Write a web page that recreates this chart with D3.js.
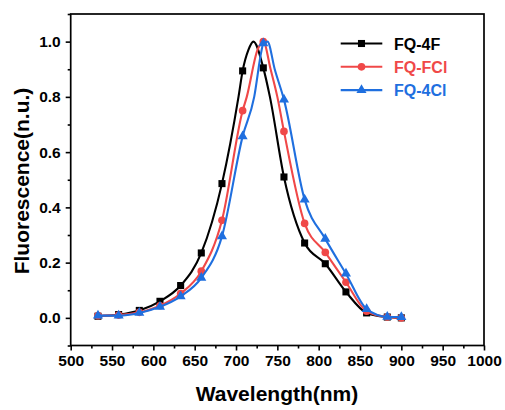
<!DOCTYPE html>
<html>
<head>
<meta charset="utf-8">
<script src="https://cdn.jsdelivr.net/npm/d3@7"></script>
<style>
  body { margin: 0; background: #fff; }
  text { font-family: "Liberation Sans", Arial, sans-serif; font-weight: bold; }
</style>
</head>
<body>
<svg></svg>
<script>
// Marker wavelengths (nm)
const wavelengths = [533, 558, 583, 608, 633, 658, 683, 708, 733, 758, 783, 808, 833, 858, 883, 900];

// Normalised fluorescence at the markers
const fq4F  = [0.006, 0.012, 0.027, 0.060, 0.117, 0.235, 0.486, 0.894, 0.905, 0.510, 0.271, 0.196, 0.094, 0.018, 0.003, 0.000];
const fqFCl = [0.008, 0.010, 0.020, 0.044, 0.088, 0.169, 0.353, 0.750, 1.000, 0.675, 0.342, 0.237, 0.129, 0.024, 0.003, 0.000];
const fq4Cl = [0.008, 0.008, 0.018, 0.040, 0.078, 0.145, 0.295, 0.657, 0.994, 0.790, 0.428, 0.286, 0.160, 0.032, 0.004, 0.003];

// Extra spectrum points around the peaks (line only, no marker)
const fq4FPeak  = [[703, 0.80], [715, 0.97], [721, 1.00], [741, 0.80]];
const fqFClPeak = [[713, 0.80], [726, 0.97], [742, 0.898], [750, 0.80]];
const fq4ClPeak = [[722, 0.80], [731, 0.97], [738, 1.00], [747, 0.898]];

// Axis ticks
const xTicks = d3.range(500, 1001, 50);
const xMinor = d3.range(525, 1000, 50);
const yTicks = [0.0, 0.2, 0.4, 0.6, 0.8, 1.0];
const yMinor = [-0.1, 0.1, 0.3, 0.5, 0.7, 0.9, 1.1];

const series = [
  { name: "FQ-4F",  values: fq4F,  peak: fq4FPeak,  color: "#000000", marker: "square" },
  { name: "FQ-FCl", values: fqFCl, peak: fqFClPeak, color: "#f04848", marker: "circle" },
  { name: "FQ-4Cl", values: fq4Cl, peak: fq4ClPeak, color: "#1f6fdf", marker: "triangle" }
];

const width = 505, height = 410;
const plotLeft = 70.7, plotRight = 484, plotTop = 14, plotBottom = 345.5;

const svg = d3.select("svg")
    .attr("width", width)
    .attr("height", height);

const x = d3.scaleLinear().domain([500, 1000]).range([plotLeft, plotRight]);
const y = d3.scaleLinear().domain([-0.1, 1.1]).range([plotBottom, plotTop]);

// Frame
svg.append("rect")
    .attr("x", plotLeft)
    .attr("y", plotTop)
    .attr("width", plotRight - plotLeft)
    .attr("height", plotBottom - plotTop)
    .attr("fill", "none")
    .attr("stroke", "#000")
    .attr("stroke-width", 1.7);

// Bottom axis
svg.append("g")
    .attr("transform", `translate(0,${plotBottom})`)
    .call(d3.axisBottom(x).tickValues(xTicks).tickSize(5).tickPadding(4).tickFormat(d3.format("d")));
svg.append("g")
    .attr("transform", `translate(0,${plotBottom})`)
    .call(d3.axisBottom(x).tickValues(xMinor).tickSize(3).tickFormat(""));

// Left axis
svg.append("g")
    .attr("transform", `translate(${plotLeft},0)`)
    .call(d3.axisLeft(y).tickValues(yTicks).tickSize(5).tickPadding(5).tickFormat(d3.format(".1f")));
svg.append("g")
    .attr("transform", `translate(${plotLeft},0)`)
    .call(d3.axisLeft(y).tickValues(yMinor).tickSize(3).tickFormat(""));

svg.selectAll(".domain").remove();
svg.selectAll(".tick line").attr("stroke", "#000").attr("stroke-width", 1.6);
svg.selectAll(".tick text")
    .attr("fill", "#000")
    .style("font-size", "15.5px")
    .style("font-family", "'Liberation Sans', Arial, sans-serif")
    .style("font-weight", "bold");

// Axis titles
svg.append("text")
    .attr("x", 277)
    .attr("y", 401)
    .attr("text-anchor", "middle")
    .style("font-size", "21px")
    .text("Wavelength(nm)");

svg.append("text")
    .attr("transform", "translate(29,181) rotate(-90)")
    .attr("text-anchor", "middle")
    .style("font-size", "21px")
    .text("Fluorescence(n.u.)");

// Marker drawing
const symbols = {
  square: d3.symbol().type(d3.symbolSquare).size(50),
  circle: d3.symbol().type(d3.symbolCircle).size(46),
  triangle: d3.symbol().type(d3.symbolTriangle).size(44)
};

const line = d3.line()
    .x(d => x(d[0]))
    .y(d => y(d[1]))
    .curve(d3.curveMonotoneX);

const plot = svg.append("g");

series.forEach(s => {
  const markerPts = wavelengths.map((w, i) => [w, s.values[i]]);
  const linePts = markerPts.concat(s.peak).sort((a, b) => a[0] - b[0]);

  plot.append("path")
      .datum(linePts)
      .attr("d", line)
      .attr("fill", "none")
      .attr("stroke", s.color)
      .attr("stroke-width", 2.1);

  plot.selectAll(null)
    .data(markerPts)
    .enter().append("path")
      .attr("d", symbols[s.marker])
      .attr("transform", d => `translate(${x(d[0])},${y(d[1])})`)
      .attr("fill", s.color);
});

// Legend
const legend = svg.append("g");
series.forEach((s, i) => {
  const ly = 43.5 + i * 23.3;
  legend.append("line")
      .attr("x1", 340.7)
      .attr("x2", 382.3)
      .attr("y1", ly)
      .attr("y2", ly)
      .attr("stroke", s.color)
      .attr("stroke-width", 2.1);
  legend.append("path")
      .attr("d", symbols[s.marker])
      .attr("transform", `translate(361.5,${ly})`)
      .attr("fill", s.color);
  legend.append("text")
      .attr("x", 394)
      .attr("y", ly + 6)
      .attr("fill", s.color)
      .style("font-size", "16px")
      .text(s.name);
});
</script>
</body>
</html>
